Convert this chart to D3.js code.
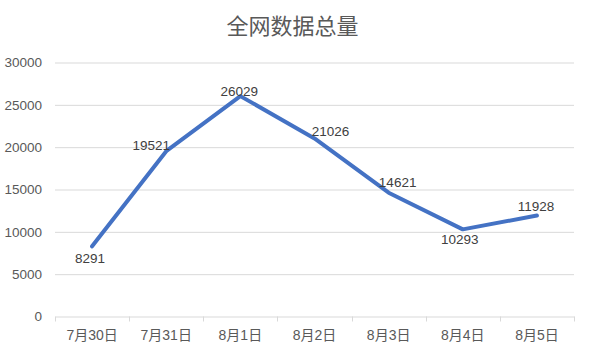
<!DOCTYPE html>
<html>
<head>
<meta charset="utf-8">
<script src="https://cdn.jsdelivr.net/npm/d3@7"></script>
<style>
  body { margin: 0; background: #fff; }
  text { font-family: "Liberation Sans", Arial, "Noto Sans CJK SC", sans-serif; }
</style>
</head>
<body>
<div id="canvas"></div>
<script>
// chart data
var title = '全网数据总量';
var categories = ['7月30日', '7月31日', '8月1日', '8月2日', '8月3日', '8月4日', '8月5日'];
var totals = [8291, 19521, 26029, 21026, 14621, 10293, 11928];
var yTicks = [0, 5000, 10000, 15000, 20000, 25000, 30000];

// where each data label sits relative to its point (px)
var labelDx = [-2, -15, -1, 16, 9, -3, -1];
var labelDy = [12, -6, -5, -7, -10, 10, -9];

var width = 589, height = 354;
var margin = { left: 55, top: 62.5, right: 15, bottom: 37.5 };

var svg = d3.select('#canvas').append('svg')
  .attr('width', width)
  .attr('height', height);

svg.append('rect').attr('width', width).attr('height', height).attr('fill', '#fff');

var x = d3.scaleBand().domain(categories).range([margin.left, 574]).padding(0);
var y = d3.scaleLinear().domain([0, 30000]).range([height - margin.bottom, margin.top]);

// title
svg.append('text')
  .attr('x', 292.5)
  .attr('y', 26)
  .attr('text-anchor', 'middle')
  .attr('dominant-baseline', 'central')
  .style('font-size', '22px')
  .style('fill', '#595959')
  .text(title);

// y grid + labels
var yAxis = svg.append('g')
  .attr('transform', 'translate(' + margin.left + ',0)')
  .call(d3.axisLeft(y).tickValues(yTicks).tickFormat(d3.format('d'))
    .tickSize(-(574 - margin.left)).tickPadding(13));
yAxis.select('.domain').remove();
yAxis.selectAll('.tick line')
  .attr('stroke', '#d9d9d9')
  .attr('stroke-width', 1)
  .attr('display', d => d === 0 ? 'none' : null);
yAxis.selectAll('.tick text')
  .style('font-size', '13.5px')
  .style('font-family', '"Liberation Sans", Arial, sans-serif')
  .attr('fill', '#595959');

// x axis with boundary ticks
var xAxis = svg.append('g')
  .attr('transform', 'translate(0,' + y(0) + ')')
  .call(d3.axisBottom(x).tickSize(0).tickPadding(14));
xAxis.select('.domain').attr('stroke', '#d9d9d9');
xAxis.selectAll('.tick text')
  .style('font-size', '14px')
  .attr('fill', '#595959');
xAxis.selectAll('line.bound')
  .data(d3.range(categories.length + 1))
  .enter()
  .append('line')
  .attr('class', 'bound')
  .attr('x1', i => Math.round(margin.left + i * x.bandwidth()) + 0.5)
  .attr('x2', i => Math.round(margin.left + i * x.bandwidth()) + 0.5)
  .attr('y1', 0)
  .attr('y2', 5)
  .attr('stroke', '#d9d9d9');

var cx = d => x(d) + x.bandwidth() / 2;

// line
var line = d3.line()
  .x((d, i) => cx(categories[i]))
  .y(d => y(d));

svg.append('path')
  .attr('d', line(totals))
  .attr('fill', 'none')
  .attr('stroke', '#4472c4')
  .attr('stroke-width', 4)
  .attr('stroke-linejoin', 'round')
  .attr('stroke-linecap', 'round');

// data labels
svg.append('g').selectAll('text')
  .data(totals)
  .enter()
  .append('text')
  .attr('x', (d, i) => cx(categories[i]) + labelDx[i])
  .attr('y', (d, i) => y(d) + labelDy[i])
  .attr('text-anchor', 'middle')
  .attr('dominant-baseline', 'central')
  .style('font-size', '13.5px')
  .style('fill', '#404040')
  .text(d => d);
</script>
</body>
</html>
